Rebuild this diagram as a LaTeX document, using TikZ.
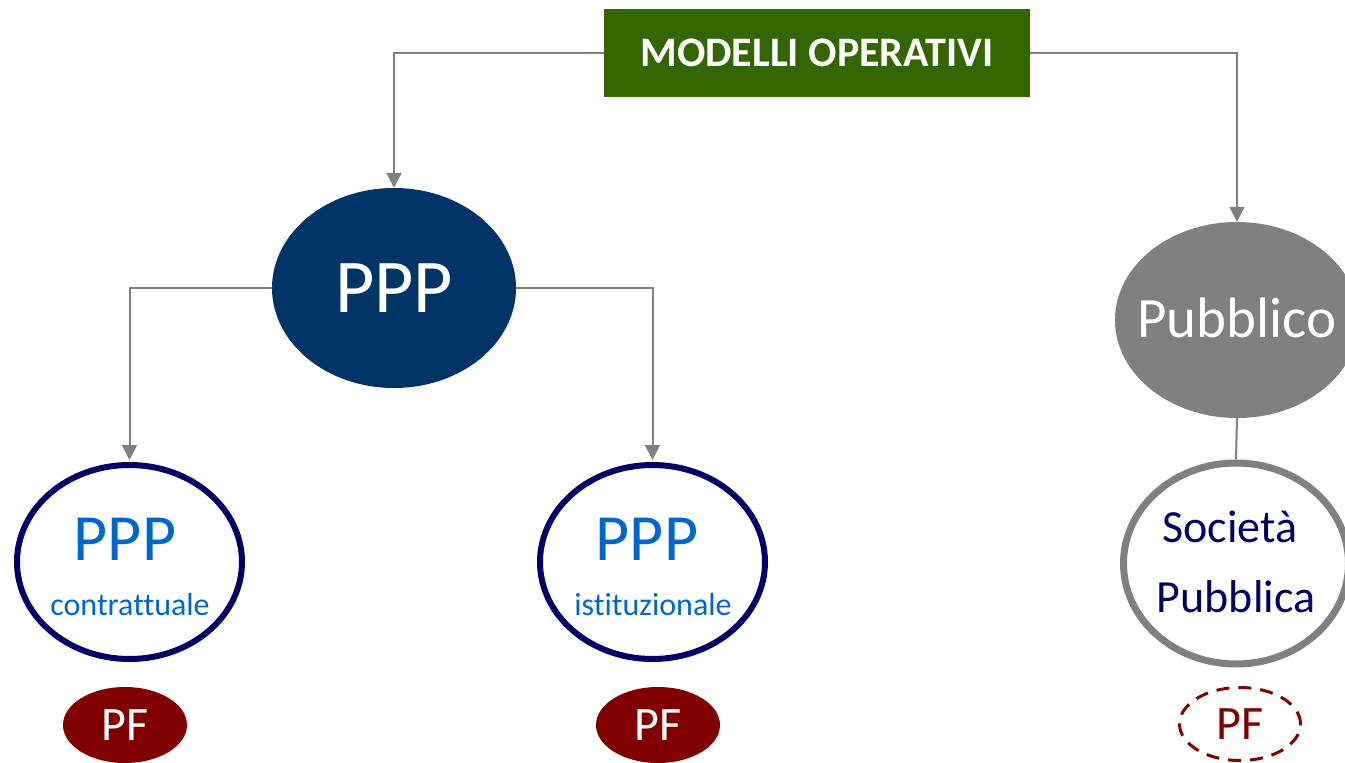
\documentclass[tikz,border=0pt]{standalone}
\usepackage{fontspec}
\setmainfont{Carlito}[Ligatures=NoCommon]
\usetikzlibrary{shapes.geometric,arrows.meta}
\definecolor{boxgreen}{HTML}{336600}
\definecolor{pppnavy}{HTML}{003366}
\definecolor{ringnavy}{HTML}{000066}
\definecolor{txtblue}{HTML}{0066CC}
\definecolor{pfred}{HTML}{800000}
\definecolor{midgray}{HTML}{808080}
\begin{document}
\begin{tikzpicture}[x=1pt,y=-1pt,
  fs/.style={font=\fontsize{#1}{#1}\selectfont},
  conn/.style={draw=midgray, line width=2pt, -{Triangle[length=15pt,width=15pt]}},
  plainconn/.style={draw=midgray, line width=2pt},
  ring/.style={ellipse, draw=ringnavy, line width=6pt, minimum width=225pt, minimum height=194pt, inner sep=0pt},
  pffill/.style={ellipse, fill=pfred, minimum width=124pt, minimum height=76pt, inner sep=0pt, text=white, fs=48},
  blab/.style={anchor=base, text=txtblue},
]
\useasboundingbox (0,0) rectangle (1345,763);
\clip (0,0) rectangle (1345,763);

\node[fill=boxgreen, minimum width=426pt, minimum height=88pt, inner sep=0pt, text=white, font=\bfseries\fontsize{42}{42}\selectfont] (top) at (817,53) {MODELLI OPERATIVI};

\node[ellipse, fill=pppnavy, minimum width=244pt, minimum height=200pt, inner sep=0pt, text=white, fs=76] (ppp) at (394,288) {PPP};

\node[ring] (c1) at (129.5,562) {};
\node[blab, fs=66] (c1a) at (125,560) {PPP};
\node[blab, fs=32] (c1b) at (130,615) {contrattuale};

\node[ring] (c2) at (652.5,562) {};
\node[blab, fs=66] (c2a) at (647,560) {PPP};
\node[blab, fs=32] (c2b) at (653,615) {istituzionale};

\node[ellipse, fill=midgray, minimum width=244pt, minimum height=196pt, inner sep=0pt] (pub) at (1237,320) {};
\node[anchor=base, text=white, fs=57] (pubt) at (1237,337) {Pubblico};

\node[ellipse, draw=midgray, line width=7pt, minimum width=225pt, minimum height=201pt, inner sep=0pt] (soc) at (1236,563.5) {};
\node[anchor=base, text=ringnavy, fs=46] (soca) at (1230,542) {Società};
\node[anchor=base, text=ringnavy, fs=46] (socb) at (1236,612) {Pubblica};

\node[pffill] (pf1) at (125,725) {PF};
\node[pffill] (pf2) at (658,725) {PF};
\node[ellipse, draw=pfred, dash pattern=on 13pt off 9pt, line width=3pt, minimum width=121pt, minimum height=73pt, inner sep=0pt, text=pfred, fs=48] (pf3) at (1240,724) {PF};

\draw[conn] (top.west) -| (ppp.north);
\draw[conn] (top.east) -| (pub.north);
\draw[conn, shorten >=2pt] (ppp.west) -| (c1.north);
\draw[conn, shorten >=2pt] (ppp.east) -| (c2.north);
\draw[plainconn] (pub.south) -- (soc.north);
\end{tikzpicture}
\end{document}
